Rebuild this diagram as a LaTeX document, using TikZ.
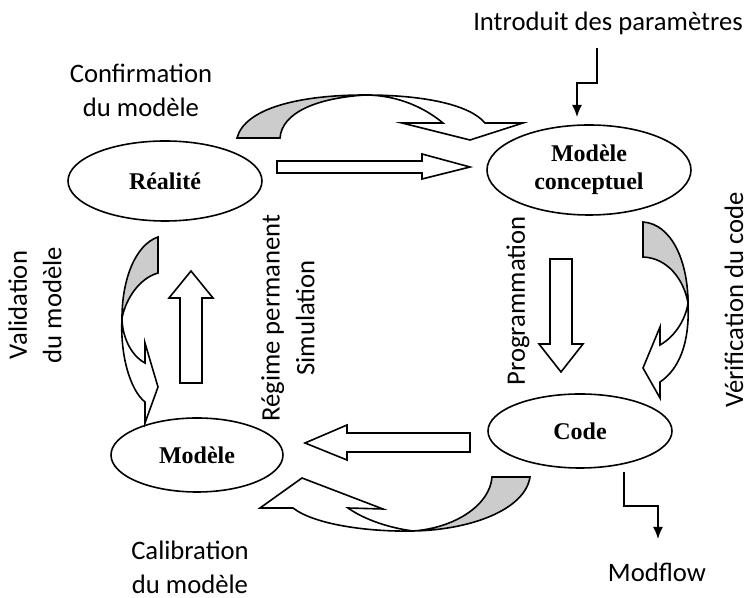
\documentclass[tikz,border=0pt]{standalone}
\usepackage{fontspec}
\setmainfont{Carlito}
\newfontfamily\timesfont{Liberation Serif}
\usetikzlibrary{arrows,arrows.meta,calc,shapes.geometric}

\begin{document}
\begin{tikzpicture}[x=0.375pt,y=-0.375pt,line width=0.6pt,
  etat/.style={ellipse,draw,inner sep=0pt,align=center,
    font=\timesfont\bfseries\fontsize{9}{10.5}\selectfont},
  legende/.style={align=center,font=\fontsize{10}{13}\selectfont},
  bloc/.style={draw,fill=white,line join=miter},
  dos/.style={draw,fill=gray!40},
  fleche/.style={-{Latex[length=4.5pt,width=3.75pt]}}]
\useasboundingbox (0,0) rectangle (749,598);

\node[etat,minimum width=72.75pt,minimum height=30pt] (realite) at (165,181) {R\'ealit\'e};
\node[etat,minimum width=76.5pt,minimum height=33.75pt] (concept) at (589,170) {Mod\`ele\\conceptuel};
\node[etat,minimum width=69pt,minimum height=27.75pt] (code) at (580,431) {Code};
\node[etat,minimum width=64.5pt,minimum height=27.75pt] (modele) at (197,455) {Mod\`ele};

\node[legende,anchor=base] (intro) at (608,31) {Introduit des param\`etres};
\node[legende,anchor=base] (confirm) at (141,117) {Confirmation\\du mod\`ele};
\node[legende,anchor=base] (calib) at (190,594) {Calibration\\du mod\`ele};
\node[legende,anchor=base] (modflow) at (657,582) {Modflow};
\node[legende,rotate=90] (valid) at (35,305) {Validation\\du mod\`ele};
\node[legende,rotate=90] (regime) at (288,318) {R\'egime permanent\\Simulation};
\node[legende,rotate=90] (prog) at (518,301) {Programmation};
\node[legende,rotate=90] (verif) at (734,300) {V\'erification du code};

\coordinate (depart) at (597,48);
\coordinate (entree) at (577,117);
\coordinate (sortie) at (624,472);
\coordinate (fin) at (658,539);
\draw[fleche] (depart) -- ++(0,35) -| (entree);
\draw[fleche] (sortie) -- ++(0,34) -| (fin);

\draw[bloc] (277,161) -- (422,161) -- (422,154) -- (470,167) -- (422,179) -- (422,173) -- (277,173) -- cycle;
\draw[bloc] (470,433) -- (347,433) -- (347,425) -- (305,443) -- (347,460) -- (347,452) -- (470,452) -- cycle;
\draw[bloc] (180,383) -- (180,298) -- (169,298) -- (191,271) -- (213,298) -- (202,298) -- (202,383) -- cycle;
\draw[bloc] (550,259) -- (572,259) -- (572,344) -- (583,344) -- (561,372) -- (539,344) -- (550,344) -- cycle;

\draw[bloc] (365,95) .. controls (425,95) and (470,105) .. (485,123) -- (523,123) -- (470,140) -- (402,123) -- (443,123)
  .. controls (415,100) and (385,95) .. (365,95) -- cycle;
\draw[dos] (237,138) .. controls (245,108) and (300,95) .. (365,95) .. controls (318,98) and (282,112) .. (280,138) -- cycle;

\draw[bloc] (688,303) .. controls (690,345) and (678,370) .. (660,382) -- (660,398) -- (643,368) -- (660,327) -- (660,345)
  .. controls (676,336) and (686,318) .. (688,303) -- cycle;
\draw[dos] (643,222) .. controls (672,224) and (688,262) .. (688,303) .. controls (684,280) and (668,258) .. (643,257) -- cycle;

\draw[bloc] (122,318) .. controls (120,355) and (130,390) .. (145,402) -- (145,423) -- (158,387) -- (145,343) -- (145,363)
  .. controls (130,355) and (122,335) .. (122,318) -- cycle;
\draw[dos] (158,237) .. controls (135,245) and (122,280) .. (122,318) .. controls (126,298) and (140,278) .. (158,273) -- cycle;

\draw[bloc] (413,531) .. controls (370,532) and (315,525) .. (293,508) -- (260,508) -- (302,478) -- (383,509) -- (348,508)
  .. controls (365,520) and (390,528) .. (413,531) -- cycle;
\draw[dos] (530,477) .. controls (525,510) and (470,530) .. (413,531) .. controls (455,528) and (490,505) .. (492,477) -- cycle;

\end{tikzpicture}
\end{document}
